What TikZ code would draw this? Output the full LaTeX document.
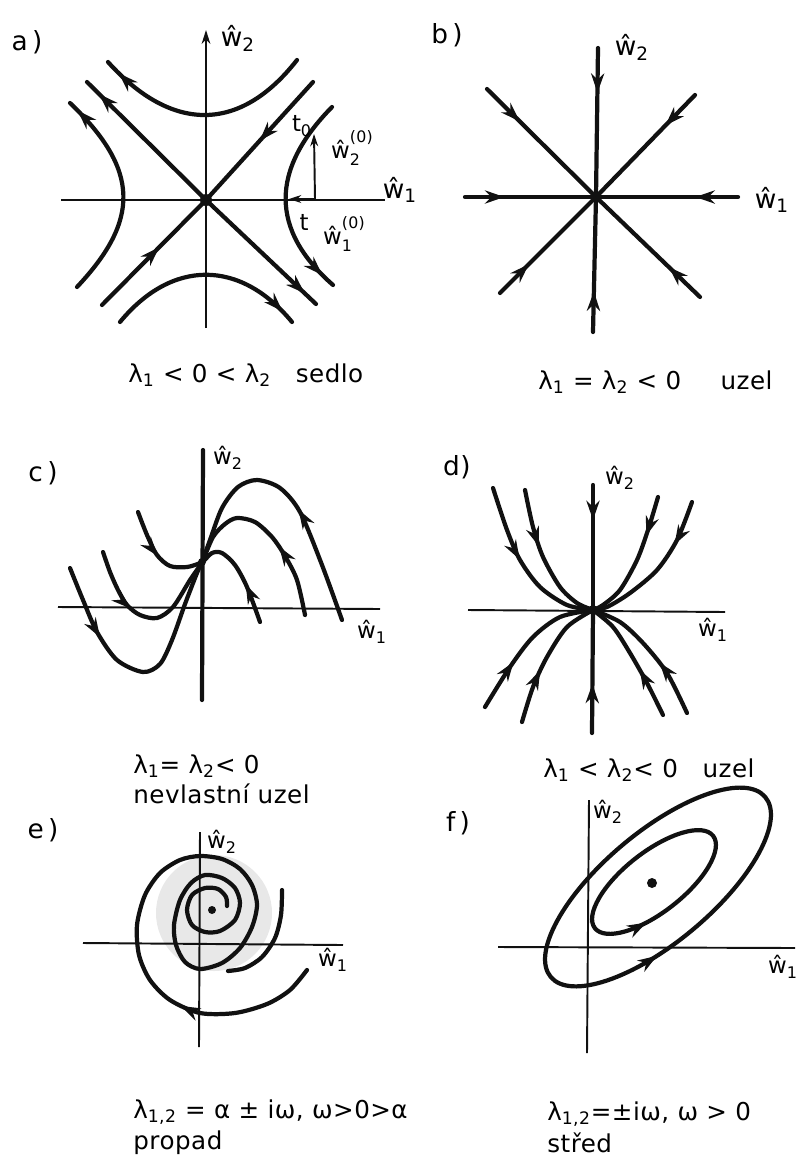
\documentclass[tikz,border=0pt]{standalone}
\usepackage{fontspec}
\setmainfont{DejaVu Sans}[LetterSpace=2]
\usepackage{tikz}
\usetikzlibrary{arrows.meta, positioning, decorations.markings}
\definecolor{ink}{HTML}{111111}
\definecolor{smudge}{HTML}{E8E8E8}
\tikzstyle{traj}=[draw=ink,line width=2.4pt,line cap=round,line join=round]
\tikzstyle{axis}=[draw=ink,line width=1.1pt]
\tikzstyle{thinarr}=[draw=ink,line width=1.1pt,-{Stealth[length=7pt,width=4.5pt]}]
\tikzstyle{tag}=[font=\fontsize{15}{17}\selectfont,inner sep=0pt]
\tikzstyle{axlbl}=[font=\fontsize{13}{15}\selectfont,inner sep=0pt]
\tikzstyle{caption}=[font=\fontsize{14}{16}\selectfont,inner sep=0pt,anchor=west]
\tikzset{
  fwd/.style={postaction={decorate},decoration={markings,
    mark=at position #1 with {\arrow{Stealth[length=11pt,width=7.5pt]}}}},
  bwd/.style={postaction={decorate},decoration={markings,
    mark=at position #1 with {\arrowreversed{Stealth[length=11pt,width=7.5pt]}}}},
  twoarrows/.style 2 args={postaction={decorate},decoration={markings,
    mark=at position #1 with {\arrow{Stealth[length=11pt,width=7.5pt]}},
    mark=at position #2 with {\arrowreversed{Stealth[length=11pt,width=7.5pt]}}}}
}
\newcommand{\wh}[1]{ŵ\textsubscript{#1}}
\newcommand{\whz}[1]{ŵ\makebox[0pt][l]{\raisebox{-0.6ex}{\small #1}}\raisebox{1.3ex}{\small (0)}}
\newcommand{\lam}[1]{λ\textsubscript{#1}}

\begin{document}
\begin{tikzpicture}[x=0.02cm,y=-0.02cm]
  \useasboundingbox (0,0) rectangle (800,1160);
  % a) sedlo
  \node[tag] (taga) at (27,42) {a\,)};
  \coordinate (oa) at (206,200);
  \draw[axis,-{Stealth[length=8pt,width=5pt]}] (206,328) -- (206,30);
  \draw[axis] (61,200) -- (385,200);
  \draw[traj,fwd=0.55] (102,305) -- (oa);
  \draw[traj,fwd=0.5] (313,82) -- (oa);
  \draw[traj,fwd=0.9] (oa) -- (87,82);
  \draw[traj,fwd=0.9] (oa) -- (316,304);
  \fill[ink] (oa) circle[radius=6];
  \draw[traj,fwd=0.93] (297,60) .. controls (240,133) and (172,133) .. (108,62);
  \draw[traj,fwd=0.93] (120,322) .. controls (172,259) and (240,259) .. (292,322);
  \draw[traj,fwd=0.95] (77,287) .. controls (140,220) and (140,170) .. (70,103);
  \draw[traj,fwd=0.93] (332,107) .. controls (270,170) and (270,230) .. (333,285);
  \coordinate (foot) at (315,199);
  \coordinate (tpt) at (289,199);
  \coordinate (t0pt) at (314,134);
  \draw[thinarr] (foot) -- (tpt);
  \draw[thinarr] (foot) -- (t0pt);
  \node[axlbl] (lt0) at (302,126) {t\textsubscript{0}};
  \node[axlbl] (lw20) at (352,148) {\whz{2}};
  \node[axlbl] (lt) at (304,222) {t};
  \node[axlbl] (lw10) at (344,234) {\whz{1}};
  \node[tag] (w2a) at (238,38) {\wh{2}};
  \node[tag] (w1a) at (400,190) {\wh{1}};
  \node[caption] (capa) at (128,375) {\lam{1} < 0 < \lam{2}\quad sedlo};
  % b) uzel
  \node[tag] (tagb) at (447,35) {b\,)};
  \coordinate (ob) at (596,197);
  \draw[traj,fwd=0.3] (598,48) -- (ob);
  \draw[traj,fwd=0.3] (593,332) -- (ob);
  \draw[traj,fwd=0.3] (465,197) -- (ob);
  \draw[traj,fwd=0.3] (738,197) -- (ob);
  \draw[traj,fwd=0.3] (487,89) -- (ob);
  \draw[traj,fwd=0.3] (695,95) -- (ob);
  \draw[traj,fwd=0.3] (500,293) -- (ob);
  \draw[traj,fwd=0.3] (700,297) -- (ob);
  \fill[ink] (ob) circle[radius=5];
  \node[tag] (w2b) at (632,47) {\wh{2}};
  \node[tag] (w1b) at (772,200) {\wh{1}};
  \node[caption] (capb) at (538,382) {\lam{1} = \lam{2} < 0\hspace{1.6em}uzel};
  % c) nevlastni uzel
  \node[tag] (tagc) at (43,473) {c\,)};
  \coordinate (oc) at (202,562);
  \draw[traj] (203,450) -- (202,700);
  \draw[axis] (58,607) -- (380,609);
  \draw[traj,twoarrows={0.14}{0.78}] plot[smooth] coordinates {(70,568) (83,600) (97,632) (117,660) (143,672) (160,664) (172,640) (185,604) (197,573) (oc) (210,540) (222,508) (238,487) (257,480) (280,488) (300,512) (322,565) (342,620)};
  \draw[traj,twoarrows={0.18}{0.79}] plot[smooth] coordinates {(103,552) (110,572) (118,590) (127,605) (140,615) (157,618) (173,607) (190,580) (oc) (213,537) (225,524) (237,518) (255,522) (272,537) (285,556) (297,580) (305,615)};
  \draw[traj,twoarrows={0.24}{0.8}] plot[smooth] coordinates {(138,512) (147,535) (157,555) (170,566) (187,567) (oc) (212,553) (222,553) (235,565) (247,587) (260,622)};
  \fill[ink] (oc) circle[radius=4];
  \node[axlbl] (w2c) at (228,458) {\wh{2}};
  \node[axlbl] (w1c) at (372,632) {\wh{1}};
  \node[caption] (capc) at (133,766) {\lam{1}= \lam{2}< 0};
  \node[caption,below=3pt of capc.south west,anchor=north west] (capc2) {nevlastní uzel};
  % d) uzel
  \node[tag] (tagd) at (457,467) {d)};
  \coordinate (od) at (593,610);
  \draw[axis] (468,610) -- (725,612);
  \draw[traj,fwd=0.28] (593,485) -- (od);
  \draw[traj,fwd=0.4] (592,733) -- (od);
  \draw[traj,fwd=0.45] plot[smooth] coordinates {(493,488) (507,530) (520,560) (540,587) (567,605) (od)};
  \draw[traj,fwd=0.4] plot[smooth] coordinates {(525,490) (533,527) (543,557) (560,587) (577,603) (od)};
  \draw[traj,fwd=0.3] plot[smooth] coordinates {(658,497) (648,530) (637,560) (620,590) (603,605) (od)};
  \draw[traj,fwd=0.3] plot[smooth] coordinates {(692,502) (677,540) (657,570) (630,593) (607,607) (od)};
  \draw[traj,fwd=0.35] plot[smooth] coordinates {(485,707) (510,667) (533,637) (560,617) (od)};
  \draw[traj,fwd=0.4] plot[smooth] coordinates {(522,722) (533,687) (547,657) (567,627) (od)};
  \draw[traj,fwd=0.4] plot[smooth] coordinates {(663,715) (647,683) (630,653) (613,627) (od)};
  \draw[traj,fwd=0.4] plot[smooth] coordinates {(687,713) (667,673) (643,643) (620,622) (od)};
  \fill[ink] (od) circle[radius=5];
  \node[axlbl] (w2d) at (620,478) {\wh{2}};
  \node[axlbl] (w1d) at (713,630) {\wh{1}};
  \node[caption] (capd) at (543,770) {\lam{1} < \lam{2}< 0\quad uzel};
  % e) propad
  \node[tag] (tage) at (43,830) {e\,)};
  \fill[smudge] (214,913) circle[radius=58];
  \draw[axis] (200,832) -- (199,1047);
  \draw[axis] (83,943) -- (343,945);
  \draw[traj,fwd=0.17] plot[smooth] coordinates {(307,970) (290,990) (267,1004) (235,1013) (200,1013) (170,1000) (150,980) (139,955) (137,925) (145,895) (160,873) (180,860) (200,856) (222,859) (240,869) (252,885) (257,905) (252,927) (240,948) (222,963) (200,969) (185,962) (176,945) (174,925) (180,900) (191,883) (205,875) (222,878) (235,888) (240,903) (235,920) (220,931) (205,932) (192,925) (187,910) (192,895) (205,888) (218,889) (226,897) (227,906)};
  \draw[traj] plot[smooth] coordinates {(282,890) (281,915) (275,938) (262,957) (245,968) (228,971)};
  \fill[ink] (212,910) circle[radius=4];
  \node[axlbl] (w2e) at (222,842) {\wh{2}};
  \node[axlbl] (w1e) at (333,960) {\wh{1}};
  \node[caption] (cape) at (133,1112) {\lam{1,2} = α ± iω, ω>0>α};
  \node[caption,below=3pt of cape.south west,anchor=north west] (cape2) {propad};
  % f) stred
  \node[tag] (tagf) at (458,823) {f\,)};
  \draw[axis] (589,800) -- (587,1053);
  \draw[axis] (498,947) -- (795,948);
  \draw[traj,bwd=0.32,rotate around={40:(658,887)}] (658,887) ellipse[x radius=140,y radius=55];
  \draw[traj,bwd=0.34,rotate around={38:(654,882)}] (654,882) ellipse[x radius=75,y radius=30];
  \fill[ink] (652,883) circle[radius=5];
  \node[axlbl] (w2f) at (608,812) {\wh{2}};
  \node[axlbl] (w1f) at (783,967) {\wh{1}};
  \node[caption] (capf) at (547,1114) {\lam{1,2}=±iω, ω > 0};
  \node[caption,below=3pt of capf.south west,anchor=north west] (capf2) {střed};
\end{tikzpicture}
\end{document}
